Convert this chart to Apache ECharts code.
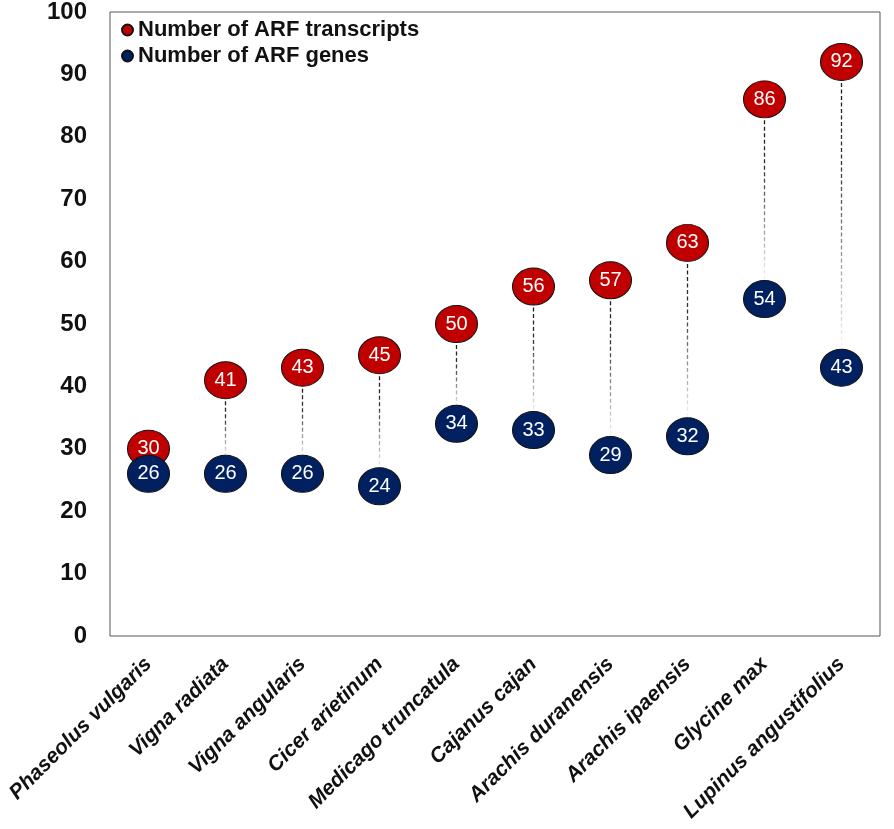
<!DOCTYPE html>
<html><head><meta charset="utf-8">
<script src="https://cdn.jsdelivr.net/npm/echarts@6/dist/echarts.min.js"></script>
<style>html,body{margin:0;padding:0;background:#fff}#c{width:894px;height:829px}</style>
</head><body><div id="c"></div>
<script>
const categories = ["Phaseolus vulgaris","Vigna radiata","Vigna angularis","Cicer arietinum","Medicago truncatula","Cajanus cajan","Arachis duranensis","Arachis ipaensis","Glycine max","Lupinus angustifolius"];
const transcripts = [30,41,43,45,50,56,57,63,86,92];
const genes = [26,26,26,24,34,33,29,32,54,43];
const yTicks = [0,10,20,30,40,50,60,70,80,90,100];

const FONT = 'Liberation Sans, Arial, Helvetica, sans-serif';
const chart = echarts.init(document.getElementById('c'));
const pairs = categories.map((c,i)=>[i, transcripts[i], genes[i]]);
chart.setOption({
  animation:false,
  grid:{left:110,right:14,top:12,bottom:193,show:true,borderColor:'#555',borderWidth:1,containLabel:false},
  legend:{
    orient:'vertical',left:116,top:14,itemGap:4,icon:'circle',itemWidth:11,itemHeight:11,
    textStyle:{fontFamily:FONT,fontWeight:'bold',fontSize:22,color:'#111'},
    data:['Number of ARF transcripts','Number of ARF genes']
  },
  xAxis:{type:'category',data:categories,boundaryGap:true,
    axisLine:{show:false},axisTick:{show:false},
    axisLabel:{rotate:45,interval:0,margin:25,fontFamily:FONT,fontStyle:'italic',fontWeight:'bold',fontSize:21,color:'#111'}},
  yAxis:{type:'value',min:0,max:100,interval:10,
    axisLine:{show:false},axisTick:{show:false},splitLine:{show:false},
    axisLabel:{margin:23,fontFamily:FONT,fontWeight:'bold',fontSize:24,color:'#111',
      formatter:v=>yTicks.includes(v)?String(v):''}},
  series:[
    {type:'custom',silent:true,z:1,data:pairs,
     renderItem:(params,api)=>{
       const x=api.coord([api.value(0),api.value(1)]);
       const y2=api.coord([api.value(0),api.value(2)]);
       const yStart=x[1]+21, yEnd=y2[1]-14;
       if(yEnd-yStart<4) return null;
       return {type:'line',shape:{x1:x[0],y1:yStart,x2:x[0],y2:yEnd},
         style:{lineWidth:1.3,lineDash:[4,2.5],
           stroke:new echarts.graphic.LinearGradient(0,0,0,1,[{offset:0,color:'rgba(30,30,30,1)'},{offset:0.3,color:'rgba(30,30,30,0.9)'},{offset:1,color:'rgba(30,30,30,0)'}],false)}};
     }},
    {name:'Number of ARF genes',type:'scatter',data:genes,z:3,symbol:'circle',symbolSize:[42,37],
     itemStyle:{color:'#002060',borderColor:'#111',borderWidth:1,opacity:1},
     label:{show:true,position:'inside',color:'#fff',fontSize:20,fontFamily:FONT}},
    {name:'Number of ARF transcripts',type:'scatter',data:transcripts,z:2,symbol:'circle',symbolSize:[42,37],
     itemStyle:{color:'#C00000',borderColor:'#111',borderWidth:1,opacity:1},
     label:{show:true,position:'inside',color:'#fff',fontSize:20,fontFamily:FONT}}
  ]
});
</script></body></html>
